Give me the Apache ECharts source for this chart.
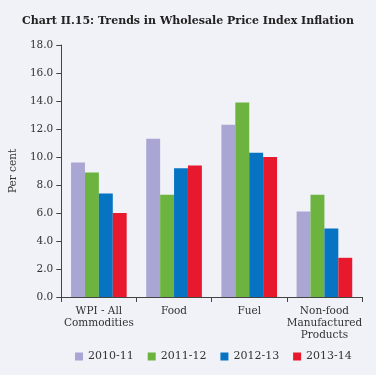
<!DOCTYPE html>
<html style="height: 100%">
<head>
    <meta charset="utf-8">
    <script src="https://cdn.jsdelivr.net/npm/echarts@6/dist/echarts.min.js"></script>
</head>
<body style="height: 100%; width: 100%; margin: 0; background-color: #f1f1f8;">
    <div id="container" style="width: 376px; height: 375px;"></div>
    <script type="text/javascript">
        var categories = ['WPI - All\nCommodities', 'Food', 'Fuel', 'Non-food\nManufactured\nProducts'];
        var seriesNames = ['2010-11', '2011-12', '2012-13', '2013-14'];
        var v2010 = [9.6, 11.3, 12.3, 6.1];
        var v2011 = [8.9, 7.3, 13.9, 7.3];
        var v2012 = [7.4, 9.2, 10.3, 4.9];
        var v2013 = [6.0, 9.4, 10.0, 2.8];
        var colors = ['#a9a6d4', '#6cb33f', '#0673c3', '#e8192c'];

        var font = 'DejaVu Serif';
        var dom = document.getElementById('container');
        var myChart = echarts.init(dom);

        var values = [v2010, v2011, v2012, v2013];
        var series = [];
        for (var i = 0; i < seriesNames.length; i++) {
            series.push({
                name: seriesNames[i],
                type: 'bar',
                data: values[i],
                barGap: '0%',
                barCategoryGap: '26%',
                itemStyle: { color: colors[i] }
            });
        }

        var option = {
            backgroundColor: '#f1f1f8',
            title: {
                text: 'Chart II.15: Trends in Wholesale Price Index Inflation',
                left: 'center',
                top: 11,
                textStyle: { fontFamily: font, fontSize: 11, fontWeight: 'bold', color: '#222' }
            },
            legend: {
                data: seriesNames,
                bottom: 8,
                left: 70,
                itemWidth: 8,
                itemHeight: 8,
                itemGap: 14,
                icon: 'rect',
                textStyle: { fontFamily: font, fontSize: 11, color: '#333' }
            },
            grid: {
                left: 57,
                right: 14,
                top: 45,
                bottom: 78
            },
            xAxis: {
                type: 'category',
                data: categories,
                axisLine: { lineStyle: { color: '#444' } },
                axisTick: { show: true, alignWithLabel: false, lineStyle: { color: '#444' } },
                axisLabel: { fontFamily: font, fontSize: 10.5, color: '#333', lineHeight: 12, interval: 0 }
            },
            yAxis: {
                type: 'value',
                min: 0,
                max: 18,
                interval: 2,
                name: 'Per cent',
                nameLocation: 'middle',
                nameGap: 36,
                nameTextStyle: { fontFamily: font, fontSize: 10.5, color: '#333' },
                splitLine: { show: false },
                axisLine: { show: true, lineStyle: { color: '#444' } },
                axisTick: { show: true, lineStyle: { color: '#444' } },
                axisLabel: {
                    fontFamily: font, fontSize: 10.5, color: '#333',
                    formatter: function (v) { return v.toFixed(1); }
                }
            },
            series: series
        };
        myChart.setOption(option, true);
    </script>
</body>
</html>
